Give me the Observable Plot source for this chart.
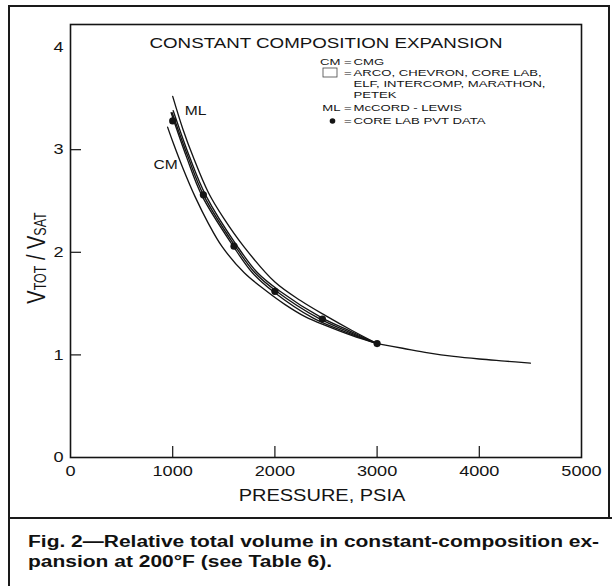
<!DOCTYPE html>
<html><head><meta charset="utf-8">
<script src="https://cdn.jsdelivr.net/npm/d3@7"></script>
<script src="https://cdn.jsdelivr.net/npm/@observablehq/plot@0.6"></script>
<style>
body{margin:0;background:#fff}
#page{position:relative;width:612px;height:586px;overflow:hidden;background:#fff}
#chart{position:absolute;left:0;top:0}
.rule{position:absolute;background:#1a1a1a}
#caption{position:absolute;left:28px;top:532px;font-family:"Liberation Sans",Arial,Helvetica,sans-serif;font-weight:bold;font-size:16.8px;line-height:19.5px;color:#111;white-space:nowrap;transform:scaleX(1.25);transform-origin:0 0}
</style></head><body>
<div id="page">
<div id="chart"></div>
<div class="rule" style="left:8px;top:5px;width:601px;height:1.5px"></div>
<div class="rule" style="left:8px;top:5px;width:1.5px;height:590px"></div>
<div class="rule" style="left:608px;top:5px;width:1.5px;height:513px"></div>
<div class="rule" style="left:8px;top:517px;width:604px;height:1.5px"></div>
<div id="caption">Fig. 2—Relative total volume in constant-composition ex-<br>pansion at 200°F (see Table 6).</div>
</div>
<script>
// ---- data ----
const pressureTicks = [0, 1000, 2000, 3000, 4000, 5000];
const innerPressureTicks = [1000, 2000, 3000, 4000];
const volumeTicks = [0, 1, 2, 3, 4];
const innerVolumeTicks = [1, 2, 3];

const cmPressure = [950, 1000, 1100, 1220, 1350, 1480, 1700, 1920, 2100, 2300, 2500, 2750, 3000];
const cmVolume   = [3.22, 3.08, 2.82, 2.54, 2.28, 2.06, 1.80, 1.62, 1.49, 1.37, 1.285, 1.19, 1.11];

const mlPressure = [1000, 1100, 1200, 1350, 1500, 1700, 2000, 2250, 2500, 2750, 3000];
const mlVolume   = [3.52, 3.20, 2.93, 2.58, 2.33, 2.05, 1.71, 1.53, 1.38, 1.24, 1.11];

const group1Pressure = [985, 1135, 1282, 1595, 1780, 1980, 2380, 2700, 3000];
const group1Volume   = [3.36, 2.93, 2.56, 2.056, 1.80, 1.62, 1.355, 1.22, 1.11];
const group2Pressure = [995, 1150, 1301, 1614, 1805, 2015, 2430, 2720, 3000];
const group2Volume   = [3.36, 2.93, 2.56, 2.056, 1.80, 1.62, 1.355, 1.225, 1.11];
const group3Pressure = [1005, 1165, 1321, 1634, 1830, 2050, 2460, 2740, 3000];
const group3Volume   = [3.38, 2.93, 2.56, 2.056, 1.80, 1.62, 1.36, 1.23, 1.11];

const tailPressure = [3000, 3250, 3500, 3750, 4000, 4250, 4500];
const tailVolume   = [1.11, 1.065, 1.02, 0.985, 0.96, 0.94, 0.92];

const pvtPressure = [1000, 1300, 1600, 2000, 2465, 3000];
const pvtVolume   = [3.28, 2.56, 2.06, 1.62, 1.35, 1.11];

const curveNames = ["CM", "ML"];
const curveNamePressure = [930, 1223];
const curveNameVolume = [2.85, 3.38];

const legendKeys = ["CM", "", "", "", "ML", ""];
const legendEquals = ["=", "=", "", "", "=", "="];
const legendTexts = ["CMG", "ARCO, CHEVRON, CORE LAB,", "ELF, INTERCOMP, MARATHON,", "PETEK", "McCORD - LEWIS", "CORE LAB PVT DATA"];

const titleText = "CONSTANT COMPOSITION EXPANSION";
const xLabel = "PRESSURE, PSIA";

// ---- tables ----
const series = [
  {name: "CM", p: cmPressure, v: cmVolume},
  {name: "G1", p: group1Pressure, v: group1Volume},
  {name: "G2", p: group2Pressure, v: group2Volume},
  {name: "G3", p: group3Pressure, v: group3Volume},
  {name: "ML", p: mlPressure, v: mlVolume},
  {name: "tail", p: tailPressure, v: tailVolume}
];
const lineRows = series.flatMap(s => s.p.map((p, i) => ({series: s.name, p, v: s.v[i]})));
const pvtRows = pvtPressure.map((p, i) => ({p, v: pvtVolume[i]}));
const nameRows = curveNames.map((n, i) => ({n, p: curveNamePressure[i], v: curveNameVolume[i]}));

// ---- layout ----
const W = 612, H = 518, mL = 70, mR = 31, mT = 24, mB = 61;
const STRETCH = 1.25, LEGEND_FS = 9.8, LEGEND_STRETCH = 1.34;
const font = "Liberation Sans, Arial, Helvetica, sans-serif";
const ink = "#141414";
const legendRowY = [61, 72, 83, 94, 107, 120.5];

const legendMarks = [];
legendTexts.forEach((t, i) => {
  const common = {frameAnchor: "top-left", dy: legendRowY[i] - mT, lineAnchor: "middle", fontSize: LEGEND_FS, fill: ink, text: d => d};
  legendMarks.push(Plot.text([t], {...common, textAnchor: "start", dx: 353 - mL}));
  if (legendEquals[i]) legendMarks.push(Plot.text([legendEquals[i]], {...common, textAnchor: "start", dx: 343.5 - mL}));
  if (legendKeys[i]) legendMarks.push(Plot.text([legendKeys[i]], {...common, textAnchor: "end", dx: 340 - mL}));
});
legendMarks.push(Plot.dot([0], {frameAnchor: "top-left", dx: 332 - mL, dy: legendRowY[5] - mT, r: 2.8, fill: ink, stroke: "none"}));

const plot = Plot.plot({
  width: W, height: H,
  marginLeft: mL, marginRight: mR, marginTop: mT, marginBottom: mB,
  style: {fontFamily: font, color: ink, background: "transparent"},
  x: {domain: [0, 5000]},
  y: {domain: [0, 4.22]},
  marks: [
    Plot.frame({stroke: ink, strokeWidth: 1.6}),
    Plot.axisX({ticks: innerPressureTicks, tickSize: -11, fill: "none", stroke: ink, strokeWidth: 1.2, label: null}),
    Plot.axisY({ticks: innerVolumeTicks, tickSize: -11, fill: "none", stroke: ink, strokeWidth: 1.2, label: null}),
    Plot.axisX({ticks: pressureTicks, tickSize: 0, tickPadding: 8, tickFormat: d3.format("d"), fontSize: 14.5, label: null, fill: ink}),
    Plot.axisY({ticks: volumeTicks, tickSize: 0, tickPadding: 7, tickFormat: d3.format("d"), fontSize: 14.5, label: null, fill: ink}),
    Plot.line(lineRows, {x: "p", y: "v", z: "series", curve: "catmull-rom", stroke: ink, strokeWidth: 1.35}),
    Plot.dot(pvtRows, {x: "p", y: "v", r: 3.6, fill: ink, stroke: "none"}),
    Plot.text(nameRows, {x: "p", y: "v", text: "n", fontSize: 12.5, fill: ink, lineAnchor: "middle"}),
    Plot.text([titleText], {frameAnchor: "top", dy: 19, lineAnchor: "middle", fontSize: 15, fill: ink, text: d => d}),
    Plot.text([xLabel], {frameAnchor: "bottom", dy: 38, dx: -4, lineAnchor: "middle", fontSize: 16, fill: ink, text: d => d}),
    ...legendMarks
  ]
});

// the scanned original is stretched horizontally: widen glyphs around their anchors
plot.querySelectorAll("text").forEach(t => {
  const g = t.closest("[font-size]");
  const k = g && +g.getAttribute("font-size") === LEGEND_FS ? LEGEND_STRETCH : STRETCH;
  const tr = t.getAttribute("transform");
  if (tr) t.setAttribute("transform", tr + ` scale(${k},1)`);
  else {
    const x = +t.getAttribute("x") || 0, y = +t.getAttribute("y") || 0;
    t.removeAttribute("x"); t.removeAttribute("y");
    t.setAttribute("transform", `translate(${x},${y}) scale(${k},1)`);
  }
});

const s = d3.select(plot);
const yl = s.append("text")
  .attr("transform", `translate(45,258) rotate(-90) scale(1,${STRETCH})`)
  .attr("text-anchor", "middle").attr("font-family", font).attr("fill", ink)
  .style("white-space", "pre");
yl.append("tspan").attr("font-size", 20).text("V");
yl.append("tspan").attr("font-size", 12.5).attr("dy", 1).text("TOT");
yl.append("tspan").attr("font-size", 20).attr("dy", -1).text(" / V");
yl.append("tspan").attr("font-size", 12.5).attr("dy", 1).text("SAT");

s.append("rect").attr("x", 323).attr("y", 68).attr("width", 14).attr("height", 9)
  .attr("fill", "none").attr("stroke", "#444").attr("stroke-width", 0.8);

document.getElementById("chart").appendChild(plot);
</script>
</body></html>
